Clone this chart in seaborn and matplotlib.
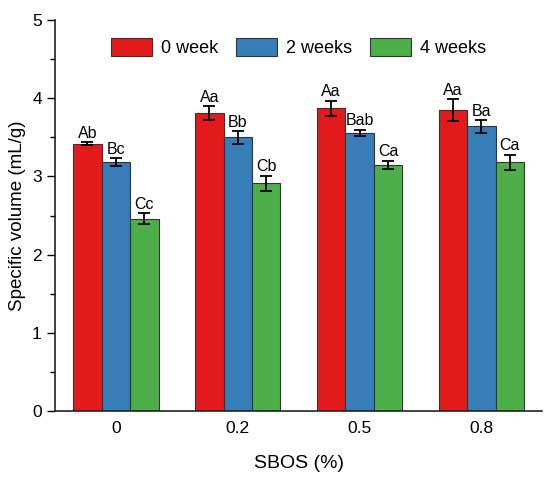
import matplotlib
matplotlib.use("Agg")
import matplotlib.pyplot as plt
import seaborn as sns
import pandas as pd
import numpy as np

categories = ["0", "0.2", "0.5", "0.8"]
series = ["0 week", "2 weeks", "4 weeks"]
week0 = [3.42, 3.81, 3.87, 3.85]
week2 = [3.18, 3.50, 3.56, 3.64]
week4 = [2.46, 2.91, 3.15, 3.18]
err0 = [0.02, 0.09, 0.10, 0.14]
err2 = [0.05, 0.08, 0.04, 0.08]
err4 = [0.07, 0.10, 0.05, 0.10]
labels0 = ["Ab", "Aa", "Aa", "Aa"]
labels2 = ["Bc", "Bb", "Bab", "Ba"]
labels4 = ["Cc", "Cb", "Ca", "Ca"]
colors = ["#E31A1C", "#377EB8", "#4DAF4A"]

rows = []
for s, vals, errs, labs in zip(series, [week0, week2, week4], [err0, err2, err4],
                               [labels0, labels2, labels4]):
    for c, v, e, l in zip(categories, vals, errs, labs):
        rows.append(dict(SBOS=c, Storage=s, value=v, err=e, label=l))
df = pd.DataFrame(rows)

sns.set_theme(style="ticks")
plt.rcParams['font.family'] = ['Liberation Sans', 'DejaVu Sans']
plt.rcParams['text.color'] = 'black'
plt.rcParams['axes.labelcolor'] = 'black'
plt.rcParams['xtick.color'] = 'black'
plt.rcParams['ytick.color'] = 'black'

fig = plt.figure(figsize=(5.5, 4.79), dpi=100)
ax = fig.add_axes([0.1, 0.142, 0.886, 0.816])

sns.barplot(data=df, x="SBOS", y="value", hue="Storage", order=categories,
            hue_order=series, palette=colors, width=0.7, errorbar=None,
            edgecolor="#333333", linewidth=0.8, ax=ax, saturation=1)

for cont, s in zip(ax.containers, series):
    sub = df[df.Storage == s].set_index("SBOS").loc[categories]
    for bar, v, e, l in zip(cont, sub.value, sub.err, sub.label):
        xc = bar.get_x() + bar.get_width() / 2
        ax.errorbar(xc, v, yerr=e, fmt="none", ecolor="black", elinewidth=1.3,
                    capsize=4, capthick=1.3)
        ax.text(xc, v + e + 0.02, l, ha="center", va="bottom", fontsize=11.5)

ax.set_ylim(0, 5)
ax.set_xlim(-0.5, 3.5)
ax.set_yticks([0, 1, 2, 3, 4, 5])
ax.set_yticks(np.arange(0.5, 5, 1), minor=True)
ax.tick_params(axis="y", which="major", length=6, width=1, labelsize=12.5, direction="out")
ax.tick_params(axis="y", which="minor", length=3.5, width=1, direction="out")
ax.tick_params(axis="x", length=0, labelsize=12.5, pad=7)
ax.set_xlabel("SBOS (%)", fontsize=14, labelpad=14)
ax.set_ylabel("Specific volume (mL/g)", fontsize=13.5, labelpad=4)
for sp in ["top", "right"]:
    ax.spines[sp].set_visible(False)
for sp in ["left", "bottom"]:
    ax.spines[sp].set_linewidth(1.2)
    ax.spines[sp].set_color("#222222")

leg = ax.legend(loc="upper center", bbox_to_anchor=(0.5, 0.995), ncol=3, frameon=False,
                fontsize=13, handlelength=2.25, handleheight=1.15, columnspacing=1.0,
                handletextpad=0.5)

fig.savefig("out.png", dpi=100)
